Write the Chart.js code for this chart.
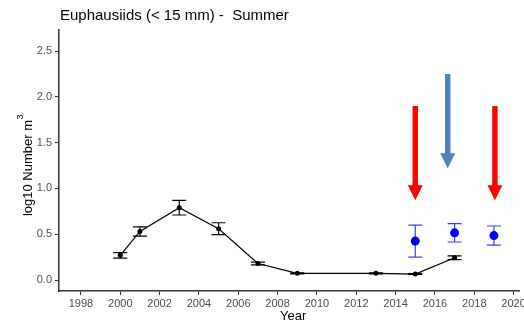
<!DOCTYPE html>
<html>
<head>
<meta charset="utf-8">
<script src="https://cdn.jsdelivr.net/npm/chart.js@4.4.1/dist/chart.umd.min.js"></script>
<style>
  html, body { margin: 0; padding: 0; background: #fff; }
</style>
</head>
<body>
<canvas id="myChart" width="524" height="324"></canvas>
<script>
// black survey series
const years = [2000, 2001, 2003, 2005, 2007, 2009, 2013, 2015, 2017];
const means = [0.27, 0.53, 0.79, 0.56, 0.18, 0.073, 0.073, 0.065, 0.243];
const errs = [0.03, 0.05, 0.08, 0.065, 0.015, 0.005, 0.005, 0.005, 0.02];

// blue series
const blueYears = [2015, 2017, 2019];
const blueMeans = [0.425, 0.515, 0.485];
const blueErrs = [0.175, 0.1, 0.105];

// arrows (x, top value, tip value)
const arrowX = [2015, 2016.65, 2019.05];
const arrowTop = [1.9, 2.25, 1.9];
const arrowTip = [0.87, 1.22, 0.87];
const arrowColors = ['#FF0000', '#4F81BD', '#FF0000'];

const xTicks = [1998, 2000, 2002, 2004, 2006, 2008, 2010, 2012, 2014, 2016, 2018, 2020];
const yTicks = [0, 0.5, 1.0, 1.5, 2.0, 2.5];

const FONT = 'Liberation Sans, Arial, sans-serif';

const errorBars = {
	id: 'errorBars',
	beforeDatasetsDraw(chart) {
		const ctx = chart.ctx;
		const xs = chart.scales.x, ys = chart.scales.y;
		chart.data.datasets.forEach(ds => {
			if (!ds.errors) return;
			ctx.save();
			ctx.strokeStyle = ds.errColor;
			ctx.lineWidth = 1.2;
			ds.data.forEach((p, i) => {
				const x = xs.getPixelForValue(p.x);
				const y1 = ys.getPixelForValue(p.y + ds.errors[i]);
				const y2 = ys.getPixelForValue(p.y - ds.errors[i]);
				const w = 7;
				ctx.beginPath();
				ctx.moveTo(x, y1); ctx.lineTo(x, y2);
				ctx.moveTo(x - w, y1); ctx.lineTo(x + w, y1);
				ctx.moveTo(x - w, y2); ctx.lineTo(x + w, y2);
				ctx.stroke();
			});
			ctx.restore();
		});
	}
};

const arrows = {
	id: 'arrows',
	afterDatasetsDraw(chart) {
		const ctx = chart.ctx;
		const xs = chart.scales.x, ys = chart.scales.y;
		arrowX.forEach((v, i) => {
			const x = xs.getPixelForValue(v);
			const top = ys.getPixelForValue(arrowTop[i]);
			const tip = ys.getPixelForValue(arrowTip[i]);
			const headLen = 15, headW = 7.5, shaftW = 2.7;
			ctx.save();
			ctx.fillStyle = arrowColors[i];
			ctx.fillRect(x - shaftW, top, shaftW * 2, tip - headLen - top + 1);
			ctx.beginPath();
			ctx.moveTo(x - headW, tip - headLen);
			ctx.lineTo(x + headW, tip - headLen);
			ctx.lineTo(x, tip);
			ctx.closePath();
			ctx.fill();
			ctx.restore();
		});
	}
};

const titles = {
	id: 'titles',
	afterDraw(chart) {
		const ctx = chart.ctx;
		const a = chart.chartArea;
		ctx.save();
		ctx.fillStyle = '#000';
		ctx.textBaseline = 'alphabetic';
		ctx.textAlign = 'left';
		ctx.font = '15px ' + FONT;
		ctx.fillText('Euphausiids (< 15 mm) -  Summer', a.left + 1, 20);

		ctx.font = '13px ' + FONT;
		ctx.textAlign = 'center';
		ctx.textBaseline = 'middle';
		ctx.fillText('Year', (a.left + a.right) / 2 + 4, 316);

		// y title with superscript
		ctx.translate(28, (a.top + a.bottom) / 2 + 5);
		ctx.rotate(-Math.PI / 2);
		const main = 'log10 Number m';
		ctx.font = '13px ' + FONT;
		const w1 = ctx.measureText(main).width;
		ctx.font = '9px ' + FONT;
		const w2 = ctx.measureText('3').width;
		const start = -(w1 + w2) / 2;
		ctx.textAlign = 'left';
		ctx.font = '13px ' + FONT;
		ctx.fillText(main, start, 0);
		ctx.font = '9px ' + FONT;
		ctx.fillText('3', start + w1 + 0.5, -7);
		ctx.restore();
	}
};

const chart = new Chart(document.getElementById('myChart'), {
	type: 'scatter',
	data: {
		datasets: [{
			data: years.map((x, i) => ({ x: x, y: means[i] })),
			errors: errs,
			errColor: '#000',
			showLine: true,
			borderColor: '#000',
			borderWidth: 1.2,
			pointRadius: 2.5,
			pointBackgroundColor: '#000',
			pointBorderWidth: 0
		}, {
			data: blueYears.map((x, i) => ({ x: x, y: blueMeans[i] })),
			errors: blueErrs,
			errColor: '#3B3BFF',
			showLine: false,
			pointRadius: 4.5,
			pointBackgroundColor: '#0000EE',
			pointBorderWidth: 0
		}]
	},
	options: {
		responsive: false,
		animation: false,
		layout: { padding: { top: 30, right: 3, left: 0, bottom: 0 } },
		plugins: { legend: { display: false }, tooltip: { enabled: false } },
		scales: {
			x: {
				type: 'linear',
				min: 1996.885,
				max: 2020.3,
				afterBuildTicks: s => { s.ticks = xTicks.map(v => ({ value: v })); },
				afterFit: s => { s.height = 33; s.paddingLeft = 0; s.paddingRight = 0; },
				ticks: {
					callback: v => String(v),
					color: '#4D4D4D',
					font: { family: FONT, size: 11 },
					padding: 2,
					maxRotation: 0,
					autoSkip: false
				},
				grid: { drawOnChartArea: false, drawTicks: true, tickLength: 4, color: '#333' },
				border: { display: true, color: '#333', width: 1.5 }
			},
			y: {
				min: -0.12,
				max: 2.73,
				afterBuildTicks: s => { s.ticks = yTicks.map(v => ({ value: v })); },
				afterFit: s => { s.width = 59; s.paddingTop = 0; s.paddingBottom = 0; },
				ticks: {
					callback: v => v.toFixed(1),
					color: '#4D4D4D',
					font: { family: FONT, size: 11 },
					padding: 3
				},
				grid: { drawOnChartArea: false, drawTicks: true, tickLength: 4, color: '#333' },
				border: { display: true, color: '#333', width: 1.5 }
			}
		}
	},
	plugins: [errorBars, arrows, titles]
});
</script>
</body>
</html>
